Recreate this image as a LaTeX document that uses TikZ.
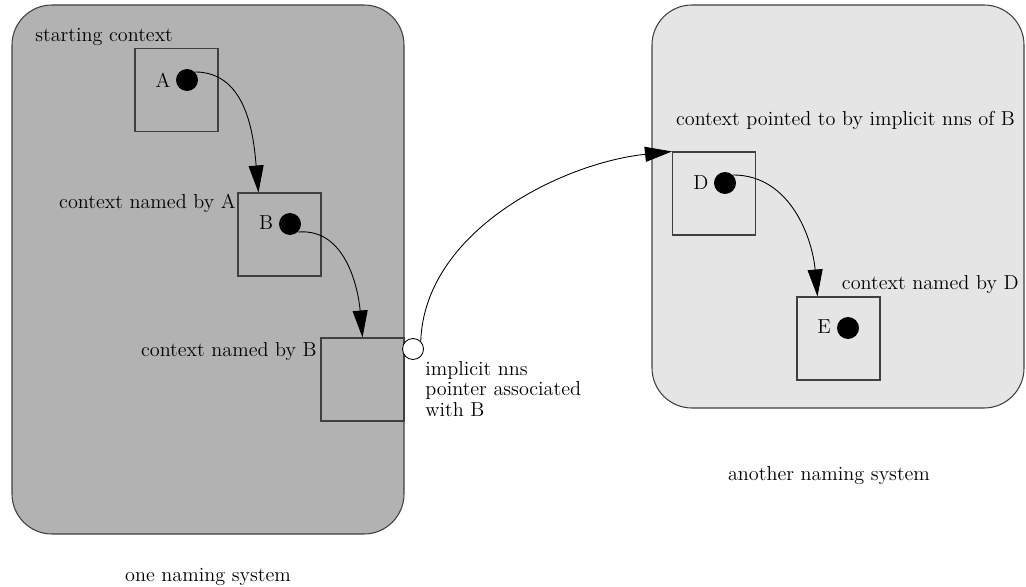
\documentclass[tikz,border=0pt]{standalone}
\usetikzlibrary{arrows.meta}
\tikzset{
  ctxbox/.style={draw=black!75, line width=0.6pt, minimum size=1.66cm, inner sep=0pt},
  refdot/.style={circle, fill=black, minimum size=0.44cm, inner sep=0pt},
  ptr/.style={-{Triangle[length=0.54cm,width=0.3cm]}, line width=0.5pt},
  lbl/.style={inner sep=0pt, font=\fontsize{11.5}{11.7}\selectfont},
  sysbox/.style={draw=black!75, line width=0.6pt, rounded corners=0.8cm},
}
\begin{document}
\begin{tikzpicture}[x=0.02cm,y=-0.02cm]
	\useasboundingbox (0,0) rectangle (1026,587);
	% the two naming systems
	\draw[sysbox, fill=black!30] (12,5) rectangle (404,534);
	\draw[sysbox, fill=black!10] (652,5) rectangle (1024,408);
	
	% contexts
	\node[ctxbox] (ctxA) at (176.5,90) {};
	\node[ctxbox] (ctxB) at (279.5,234.5) {};
	\node[ctxbox] (ctxC) at (362.5,379.5) {};
	\node[ctxbox] (ctxD) at (714,193.5) {};
	\node[ctxbox] (ctxE) at (838.5,338.5) {};
	
	% names bound in the contexts
	\node[refdot] (dotA) at (187,80) {};
	\node[refdot] (dotB) at (290,224) {};
	\node[refdot] (dotD) at (725,183) {};
	\node[refdot] (dotE) at (848,328) {};
	\node[lbl] (nameA) at (163,80) {A};
	\node[lbl] (nameB) at (266,223) {B};
	\node[lbl] (nameD) at (701,183) {D};
	\node[lbl] (nameE) at (824,327) {E};
	\node[circle, draw, fill=white, line width=0.5pt, minimum size=0.42cm, inner sep=0pt] (nnsB) at (413,349) {};
	
	% labels
	\node[lbl, anchor=west] (startlbl) at (35,37) {starting context};
	\node[lbl, anchor=east] (namedAlbl) at (236,203) {context named by A};
	\node[lbl, anchor=east] (namedBlbl) at (317,352) {context named by B};
	\node[lbl, anchor=north west, align=left] (nnslbl) at (425,361) {implicit nns\\pointer associated\\with B};
	\node[lbl] (pointedlbl) at (845.5,120) {context pointed to by implicit nns of B};
	\node[lbl, anchor=east] (namedDlbl) at (1019,285) {context named by D};
	\node[lbl] (anotherlbl) at (829,476) {another naming system};
	\node[lbl] (onelbl) at (208,577) {one naming system};
	
	% bindings
	\draw[ptr] (dotA.north east) to[out=0,in=95] ([xshift=0.42cm]ctxB.north west);
	\draw[ptr] (dotB.south east) to[out=5,in=95] (ctxC.north);
	\draw[ptr] (dotD.north east) to[out=0,in=95] ([xshift=0.42cm]ctxE.north west);
	\draw[ptr] (nnsB.north east) to[out=88,in=186,looseness=0.9] (ctxD.north west);
\end{tikzpicture}
\end{document}
